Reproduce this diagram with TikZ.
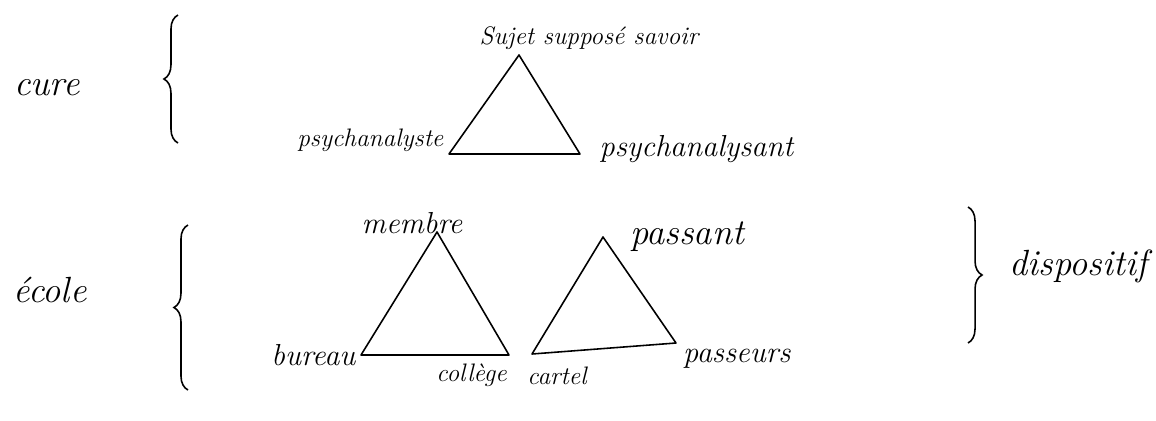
\documentclass[tikz,border=0pt]{standalone}
\usepackage{tikz}
\usetikzlibrary{positioning,decorations.pathreplacing}
\tikzset{
  word/.style={font=\Large\itshape,inner sep=1pt,text=black},
  bigword/.style={word,font=\LARGE\itshape},
  hugeword/.style={word,font=\huge\itshape},
  side/.style={line width=0.9pt,line join=round,draw=black},
  curly/.style={decorate,decoration={brace,amplitude=8pt},
                line width=0.9pt,draw=black}
}

\begin{document}
\begin{tikzpicture}[x=0.02cm,y=-0.02cm]
    \path[use as bounding box] (0,0) rectangle (1156,420);
    % the two headings and their braces
    \node[hugeword] (cure) at (47,88) {cure};
    \node[hugeword] (ecole) at (50,290) {école};
    \coordinate (cureTop) at (178,15);
    \coordinate (cureBot) at (178,143);
    \coordinate (ecoleTop) at (188,225);
    \coordinate (ecoleBot) at (188,390);
    \draw[curly] (cureBot) -- (cureTop);
    \draw[curly] (ecoleBot) -- (ecoleTop);

    % cure
    \coordinate (sujet) at (519,55);
    \coordinate (analyste) at (449,154);
    \coordinate (analysant) at (580,154);
    \draw[side] (sujet) -- (analyste) -- (analysant) -- cycle;
    \node[word,above=2pt of sujet,xshift=1.4cm] (sujetL) {Sujet supposé savoir};
    \node[word,above left=0pt and 2pt of analyste] (analysteL) {psychanalyste};
    \node[bigword,right=0.35cm of analysant,yshift=3pt] (analysantL) {psychanalysant};

    % ecole
    \coordinate (membre) at (437,232);
    \coordinate (bureau) at (361,355);
    \coordinate (college) at (509,355);
    \draw[side] (membre) -- (bureau) -- (college) -- cycle;
    \node[bigword,above=-2pt of membre,xshift=-0.5cm] (membreL) {membre};
    \node[bigword,left=2pt of bureau] (bureauL) {bureau};
    \node[word,below=4pt of college,xshift=-0.75cm] (collegeL) {collège};

    % dispositif
    \coordinate (passant) at (603,237);
    \coordinate (cartel) at (532,354);
    \coordinate (passeurs) at (676,343);
    \draw[side] (passant) -- (cartel) -- (passeurs) -- cycle;
    \node[hugeword,right=0.5cm of passant] (passantL) {passant};
    \node[word,below=6pt of cartel,xshift=0.5cm] (cartelL) {cartel};
    \node[bigword,below right=2pt and 0.1cm of passeurs] (passeursL) {passeurs};

    \coordinate (dispTop) at (968,207);
    \coordinate (dispBot) at (968,343);
    \draw[curly] (dispTop) -- (dispBot);
    \coordinate (dispTip) at (990,266);
    \node[hugeword,right=0.35cm of dispTip] (dispL) {dispositif};
  \end{tikzpicture}
\end{document}
